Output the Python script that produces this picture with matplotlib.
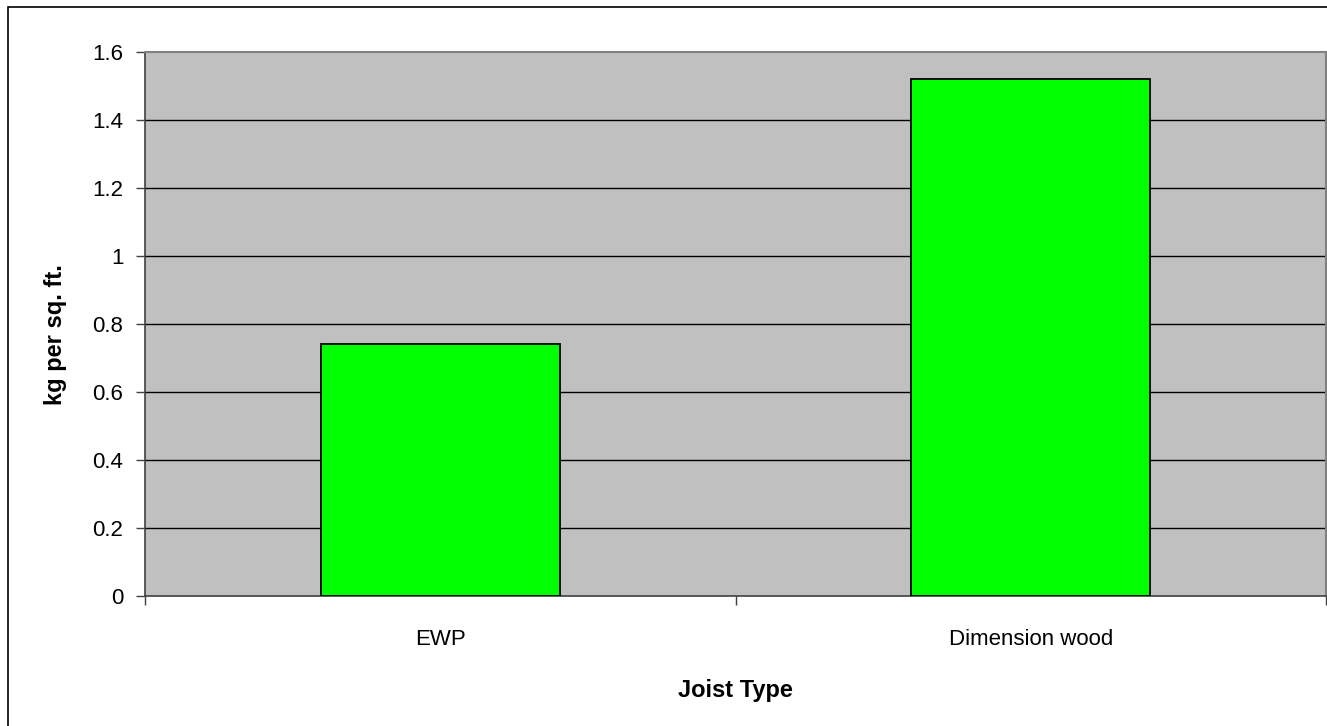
import matplotlib.pyplot as plt
from matplotlib.patches import Rectangle

plt.rcParams['font.family'] = ['Liberation Sans', 'DejaVu Sans']

# Datos
joist_types = ['EWP', 'Dimension wood']
kg_per_sqft = [0.74, 1.52]
y_ticks = [0, 0.2, 0.4, 0.6, 0.8, 1, 1.2, 1.4, 1.6]

fig = plt.figure(figsize=(13.27, 7.26), dpi=100)
fig.patch.set_facecolor('white')

# Marco exterior del grafico
fig.patches.append(Rectangle((8 / 1327, -0.05), 1.1, 1 - 7 / 726 + 0.05,
                             transform=fig.transFigure, fill=False,
                             edgecolor='black', linewidth=1.2))

ax = fig.add_axes([145 / 1327, 1 - 596 / 726, 1181 / 1327, 544 / 726])
ax.set_facecolor('#c0c0c0')

x = range(len(joist_types))
ax.bar(x, kg_per_sqft, width=0.405, color='#00ff00', edgecolor='black',
       linewidth=1.3, zorder=3)

ax.set_xlim(-0.5, len(joist_types) - 0.5)
ax.set_ylim(0, 1.6)
ax.set_yticks(y_ticks)
ax.set_yticklabels([f'{v:g}' for v in y_ticks], fontsize=16)
for v in y_ticks[1:-1]:
    ax.axhline(v, color='black', linewidth=1, zorder=1)

# Marcas del eje x en los limites de cada categoria
ax.set_xticks([-0.5, 0.5, 1.5])
ax.set_xticklabels([])
ax.set_xticks(list(x), minor=True)
ax.set_xticklabels(joist_types, minor=True, fontsize=16)
ax.tick_params(axis='x', which='minor', length=0, pad=23.5)
ax.tick_params(axis='x', which='major', length=6.5, width=1, color='#404040')
ax.tick_params(axis='y', length=6.5, width=1, color='#404040', pad=9)

for side in ['top', 'right']:
    ax.spines[side].set_color('#808080')
    ax.spines[side].set_linewidth(1.5)
for side in ['left', 'bottom']:
    ax.spines[side].set_color('#404040')
    ax.spines[side].set_linewidth(1.2)

ax.set_xlabel('Joist Type', fontsize=17, fontweight='bold', labelpad=21)
ax.set_ylabel('kg per sq. ft.', fontsize=17, fontweight='bold')
ax.yaxis.set_label_coords(-0.066, 0.48)

fig.savefig('out.png', dpi=100)
